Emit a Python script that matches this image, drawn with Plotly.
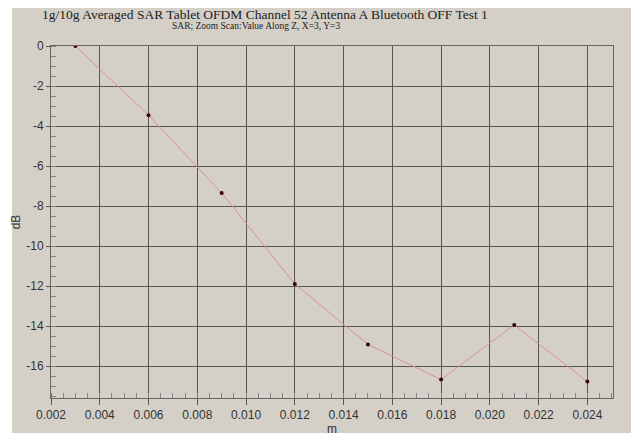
import plotly.graph_objects as go

# values
z_m = [0.003, 0.006, 0.009, 0.012, 0.015, 0.018, 0.021, 0.024]
sar_db = [0.0, -3.46, -7.35, -11.9, -14.92, -16.68, -13.95, -16.78]

x_ticks = [0.002, 0.004, 0.006, 0.008, 0.010, 0.012, 0.014, 0.016, 0.018, 0.020, 0.022, 0.024]
y_ticks = [0, -2, -4, -6, -8, -10, -12, -14, -16]

title = "1g/10g Averaged SAR Tablet OFDM Channel 52 Antenna A Bluetooth OFF Test 1"
subtitle = "SAR; Zoom Scan:Value Along Z, X=3, Y=3"

# page body has an 8px margin, so the figure is drawn 8px smaller and offset
OFF = 8
W, H = 639 - OFF, 438 - OFF
L, R, T, B = 51 - OFF, 26, 46 - OFF, 40

fig = go.Figure()
fig.add_trace(go.Scatter(
    x=z_m, y=sar_db, mode="lines+markers",
    line=dict(color="#d98f9c", width=1),
    marker=dict(color="#3a0008", size=4),
    showlegend=False,
))

tickfont = dict(family="Liberation Sans, Arial", size=12, color="#333333")

fig.update_xaxes(
    range=[0.002, 0.02505],
    tickvals=x_ticks, ticktext=[f"{v:.3f}" for v in x_ticks],
    showgrid=True, gridcolor="#555555", gridwidth=1,
    showline=True, linecolor="#666666", linewidth=1, mirror=True,
    ticks="outside", ticklen=6, tickcolor="#555555",
    minor=dict(ticks="inside", dtick=0.0005, tick0=0.002, ticklen=5,
               tickcolor="#808080", showgrid=False),
    tickfont=tickfont, zeroline=False, automargin=False,
    title=dict(text="m", font=tickfont, standoff=2),
)
fig.update_yaxes(
    range=[-17.6, 0],
    tickvals=y_ticks, ticktext=[str(v) for v in y_ticks],
    showgrid=True, gridcolor="#555555", gridwidth=1,
    showline=True, linecolor="#666666", linewidth=1, mirror=True,
    ticks="outside", ticklen=4, tickcolor="#555555",
    minor=dict(ticks="inside", dtick=0.5, tick0=0, ticklen=5,
               tickcolor="#808080", showgrid=False),
    tickfont=tickfont, zeroline=False, automargin=False,
    title=dict(text="dB", font=tickfont, standoff=3),
)

pw = W - L - R
ph = H - T - B


def px_x(p):
    return (p - OFF - L) / pw


def px_y(p):
    return (H - B - (p - OFF)) / ph


fig.update_layout(
    width=W, height=H,
    margin=dict(l=L, r=R, t=T, b=B),
    paper_bgcolor="white", plot_bgcolor="white",
    shapes=[dict(type="rect", xref="paper", yref="paper", layer="below",
                 x0=px_x(12), x1=px_x(640), y0=px_y(433), y1=px_y(3),
                 fillcolor="#d4d0c8", line=dict(width=0))],
    annotations=[
        dict(text=title, xref="paper", yref="paper", x=px_x(265), y=px_y(14),
             showarrow=False, xanchor="center", yanchor="middle",
             font=dict(family="Liberation Serif, Times New Roman", size=13.5, color="#222222")),
        dict(text=subtitle, xref="paper", yref="paper", x=px_x(256), y=px_y(26.5),
             showarrow=False, xanchor="center", yanchor="middle",
             font=dict(family="Liberation Serif, Times New Roman", size=9.5, color="#222222")),
    ],
)

fig.write_html("out.html")
